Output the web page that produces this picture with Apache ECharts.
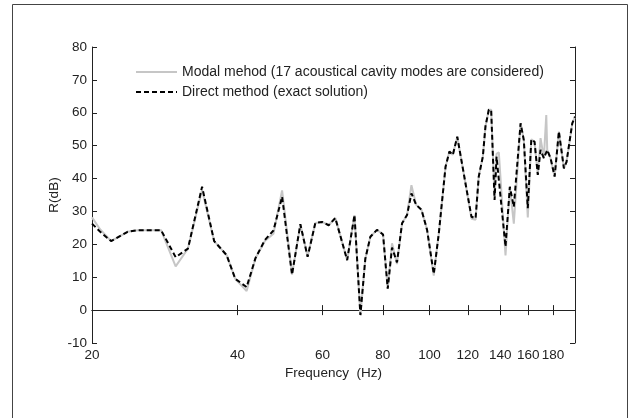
<!DOCTYPE html>
<html>
<head>
<meta charset="utf-8">
<script src="https://cdn.jsdelivr.net/npm/echarts@6/dist/echarts.min.js"></script>
<style>
html,body{margin:0;padding:0;background:#fff;}
#c{width:632px;height:418px;}
</style>
</head>
<body>
<div id="c"></div>
<script>
// Frequency (Hz) of the exact (direct) solution vertices
var directFreq = [20, 20.8, 21.9, 23.7, 24.9, 27.8, 29.8, 31.6, 33.8, 35.8, 38.0, 39.6, 41.8, 43.6, 45.6, 47.5, 49.5, 51.9, 54.0, 55.9, 58.0, 59.9, 61.8, 63.8, 67.5, 69.9, 71.9, 73.6, 75.4, 77.8, 80.1, 81.9, 83.6, 85.6, 87.7, 89.8, 91.7, 93.8, 96.2, 98.8, 102.0, 104.5, 107.9, 109.9, 111.7, 114.1, 119.0, 122.1, 124.5, 126.4, 128.9, 130.5, 132.6, 134.1, 136.3, 137.6, 139.1, 143.6, 146.6, 149.4, 154.3, 156.7, 159.7, 162.4, 164.9, 167.5, 169.7, 172.4, 175.2, 178.0, 181.5, 185.2, 186.7, 189.7, 192.1, 197.4, 200];
// R (dB), direct method
var directDb = [26.3, 23.8, 21.0, 23.8, 24.3, 24.3, 16.1, 18.7, 37.5, 21.0, 16.7, 9.5, 7.0, 15.8, 21.3, 24.2, 34.5, 10.8, 26.1, 16.2, 26.5, 26.8, 25.8, 28.0, 15.2, 28.9, -1.5, 15.6, 22.3, 24.4, 23.0, 6.5, 19.0, 14.5, 26.4, 28.9, 35.5, 32.0, 30.5, 24.4, 11.0, 23.4, 43.6, 48.2, 47.2, 52.7, 37.5, 28.4, 27.9, 40.6, 46.7, 55.8, 60.9, 60.9, 33.5, 46.7, 39.6, 19.3, 37.5, 31.4, 56.8, 51.7, 31.0, 51.9, 51.2, 41.1, 48.7, 46.2, 48.7, 46.2, 40.6, 54.3, 53.8, 43.1, 45.1, 56.8, 58.8];
// Frequency (Hz) of the modal method vertices
var modalFreq = [20, 20.8, 21.9, 23.7, 24.9, 27.8, 29.8, 31.6, 33.8, 35.8, 38.0, 39.6, 41.8, 43.6, 45.6, 47.5, 49.5, 51.9, 54.0, 55.9, 58.0, 59.9, 61.8, 63.8, 67.5, 69.9, 71.9, 73.6, 75.4, 77.8, 80.1, 81.9, 83.6, 85.6, 87.7, 89.8, 91.7, 93.8, 96.2, 98.8, 102.0, 104.5, 107.9, 109.9, 111.7, 114.1, 119.0, 122.1, 124.5, 126.4, 128.9, 130.5, 132.6, 134.1, 136.3, 137.6, 139.1, 143.6, 146.6, 149.4, 154.3, 156.7, 159.7, 162.4, 164.9, 167.5, 169.7, 172.4, 174.4, 175.2, 178.0, 181.5, 185.2, 186.7, 189.7, 192.1, 197.4, 200];
// R (dB), modal method
var modalDb = [28.2, 24.5, 21.0, 23.8, 24.3, 24.3, 13.3, 18.7, 36.5, 21.0, 16.7, 9.5, 5.8, 15.8, 21.0, 23.2, 36.4, 10.8, 26.1, 16.2, 26.5, 26.8, 25.8, 28.0, 15.2, 28.9, -1.5, 15.6, 22.3, 24.4, 23.0, 6.5, 20.3, 14.0, 26.4, 28.9, 38.0, 32.0, 30.5, 24.4, 10.5, 23.4, 43.6, 48.2, 47.2, 52.7, 37.5, 27.8, 27.5, 40.6, 46.7, 55.8, 60.9, 60.9, 34.5, 47.5, 48.0, 16.6, 37.5, 26.3, 56.8, 51.7, 28.2, 51.9, 51.2, 41.1, 52.3, 46.2, 59.3, 48.7, 46.2, 40.6, 54.3, 53.8, 43.1, 45.1, 56.8, 58.8];

var xTicks = [20, 40, 60, 80, 100, 120, 140, 160, 180];
var yMin = -10, yMax = 80, yStep = 10;
var seriesNames = ['Modal mehod (17 acoustical cavity modes are considered)', 'Direct method (exact solution)'];
var xTitle = 'Frequency  (Hz)';
var yTitle = 'R(dB)';

function pairs(fs, vs) { return fs.map(function (f, i) { return [f, vs[i]]; }); }

var axisCol = '#222';
var fontFam = '"Liberation Sans", Arial, sans-serif';
var chart = echarts.init(document.getElementById('c'), null, {renderer: 'canvas'});
chart.setOption({
  animation: false,
  backgroundColor: '#fff',
  grid: {left: 92, top: 47, right: 57, bottom: 75, containLabel: false},
  graphic: [{
    type: 'rect', silent: true,
    shape: {x: 12.5, y: 4.5, width: 615, height: 430},
    style: {fill: 'none', stroke: '#444', lineWidth: 1}
  }],
  legend: {
    orient: 'vertical', left: 135, top: 65, padding: 0,
    itemWidth: 41, itemHeight: 14, itemGap: 6,
    itemStyle: {opacity: 0},
    textStyle: {fontFamily: fontFam, fontSize: 14, color: '#222'},
    data: seriesNames
  },
  xAxis: [{
    type: 'log', logBase: 10, min: 20, max: 200,
    name: xTitle, nameLocation: 'middle', nameGap: 23, nameMoveOverlap: false,
    nameTextStyle: {fontFamily: fontFam, fontSize: 13.5, color: axisCol},
    axisLine: {show: true, lineStyle: {color: axisCol, width: 1}},
    axisTick: {show: true, inside: true, length: 5, customValues: xTicks, lineStyle: {color: axisCol}},
    minorTick: {show: false},
    axisLabel: {show: true, customValues: xTicks, margin: 5, fontFamily: fontFam, fontSize: 13.5, color: axisCol},
    splitLine: {show: false}
  }, {
    type: 'log', logBase: 10, min: 20, max: 200, position: 'top',
    axisLine: {show: true, lineStyle: {color: axisCol, width: 1}},
    axisTick: {show: true, inside: true, length: 5, customValues: xTicks, lineStyle: {color: axisCol}},
    axisLabel: {show: false},
    splitLine: {show: false}
  }],
  yAxis: [{
    type: 'value', min: yMin, max: yMax, interval: yStep,
    name: yTitle, nameLocation: 'middle', nameGap: 31, nameRotate: 90, nameMoveOverlap: false,
    nameTextStyle: {fontFamily: fontFam, fontSize: 13.5, color: axisCol},
    axisLine: {show: true, lineStyle: {color: axisCol, width: 1}},
    axisTick: {show: true, inside: true, length: 5, lineStyle: {color: axisCol}},
    axisLabel: {show: true, margin: 5, fontFamily: fontFam, fontSize: 13.5, color: axisCol},
    splitLine: {show: false}
  }, {
    type: 'value', min: yMin, max: yMax, interval: yStep, position: 'right',
    axisLine: {show: true, lineStyle: {color: axisCol, width: 1}},
    axisTick: {show: true, inside: true, length: 5, lineStyle: {color: axisCol}},
    axisLabel: {show: false},
    splitLine: {show: false}
  }],
  series: [{
    name: seriesNames[0], type: 'line', xAxisIndex: 0, yAxisIndex: 0,
    symbol: 'none', showSymbol: false,
    lineStyle: {color: '#c6c6c6', width: 2},
    itemStyle: {color: '#c6c6c6'},
    data: pairs(modalFreq, modalDb)
  }, {
    name: seriesNames[1], type: 'line', xAxisIndex: 0, yAxisIndex: 0,
    symbol: 'none', showSymbol: false,
    lineStyle: {color: '#000', width: 2, type: [5, 3]},
    itemStyle: {color: '#000'},
    data: pairs(directFreq, directDb)
  }]
});
</script>
</body>
</html>
